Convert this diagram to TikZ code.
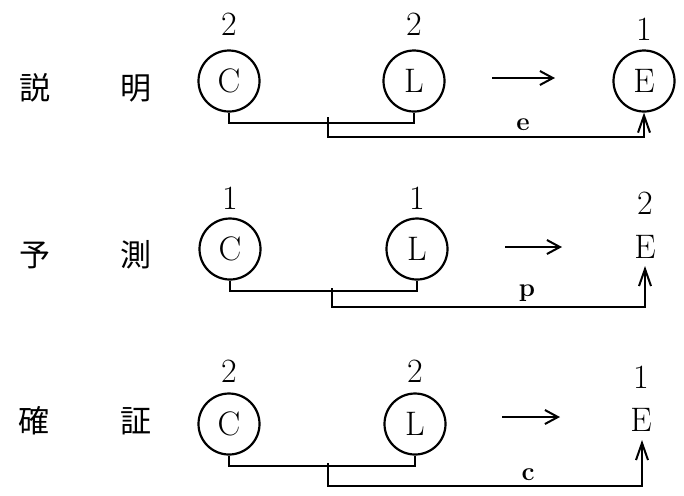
\documentclass[tikz,border=0pt]{standalone}
\usepackage{fontspec}
\newfontfamily\jpfont{Noto Sans CJK JP}
\usetikzlibrary{arrows.meta}
\tikzset{
  circ/.style={circle, draw, line width=1.1pt, minimum size=30.5pt, inner sep=0pt, font=\fontsize{17}{17}\selectfont},
  plain/.style={inner sep=0pt, font=\fontsize{17}{17}\selectfont},
  num/.style={inner sep=0pt, font=\fontsize{17}{17}\selectfont},
  kanji/.style={inner sep=0pt, font=\jpfont\fontsize{15.5}{15.5}\selectfont},
  lab/.style={inner sep=0pt, font=\bfseries\fontsize{13}{13}\selectfont},
  conn/.style={line width=1pt},
  tip/.style={-{Straight Barb[length=8.5pt,width=6pt,line width=1pt]}},
  bigarrow/.style={line width=1pt, -{Straight Barb[length=6.5pt,width=7pt,line width=1pt]}}
}
\begin{document}
\begin{tikzpicture}[x=0.5pt,y=-0.5pt]
\useasboundingbox (0,0) rectangle (684,495);
% ---------- row 1 ----------
\node[kanji] (k11) at (35,88) {説};
\node[kanji] (k12) at (136,88) {明};
\node[circ] (C1) at (229,81) {C};
\node[circ] (L1) at (414,81) {L};
\node[circ] (E1) at (644,81) {E};
\node[num] (nC1) at (229,24) {2};
\node[num] (nL1) at (414,24) {2};
\node[num] (nE1) at (644,29) {1};
\coordinate (a1s) at (492,78);
\coordinate (a1e) at (555,78);
\draw[bigarrow] (a1s) -- (a1e);
\draw[conn] (C1.south) -- ++(0,10) coordinate (c1b) -| (L1.south);
\coordinate (j1) at (328,117);
\coordinate (j1b) at (328,137);
\draw[conn,tip] (j1) -- (j1b) -| (E1.south);
\node[lab] (le) at (523,125) {e};
% ---------- row 2 ----------
\node[kanji] (k21) at (35,255) {予};
\node[kanji] (k22) at (136,255) {測};
\node[circ] (C2) at (230,249) {C};
\node[circ] (L2) at (417,249) {L};
\node[plain] (E2) at (645,247) {E};
\node[num] (nC2) at (230,198) {1};
\node[num] (nL2) at (417,198) {1};
\node[num] (nE2) at (645,203) {2};
\coordinate (a2s) at (505,247);
\coordinate (a2e) at (562,247);
\draw[bigarrow] (a2s) -- (a2e);
\draw[conn] (C2.south) -- ++(0,10) coordinate (c2b) -| (L2.south);
\coordinate (j2) at (332,288);
\coordinate (j2b) at (332,307);
\coordinate (e2t) at (645,266);
\draw[conn,tip] (j2) -- (j2b) -| (e2t);
\node[lab] (lp) at (527,293) {p};
% ---------- row 3 ----------
\node[kanji] (k31) at (34,421) {確};
\node[kanji] (k32) at (136,421) {証};
\node[circ] (C3) at (229,424) {C};
\node[circ] (L3) at (415,424) {L};
\node[plain] (E3) at (641,420) {E};
\node[num] (nC3) at (229,371) {2};
\node[num] (nL3) at (415,371) {2};
\node[num] (nE3) at (641,377) {1};
\coordinate (a3s) at (502,417);
\coordinate (a3e) at (560,417);
\draw[bigarrow] (a3s) -- (a3e);
\draw[conn] (C3.south) -- ++(0,10) coordinate (c3b) -| (L3.south);
\coordinate (j3) at (328,463);
\coordinate (j3b) at (328,486);
\coordinate (e3t) at (642,440);
\draw[conn,tip] (j3) -- (j3b) -| (e3t);
\node[lab] (lc) at (528,475) {c};
\end{tikzpicture}
\end{document}
